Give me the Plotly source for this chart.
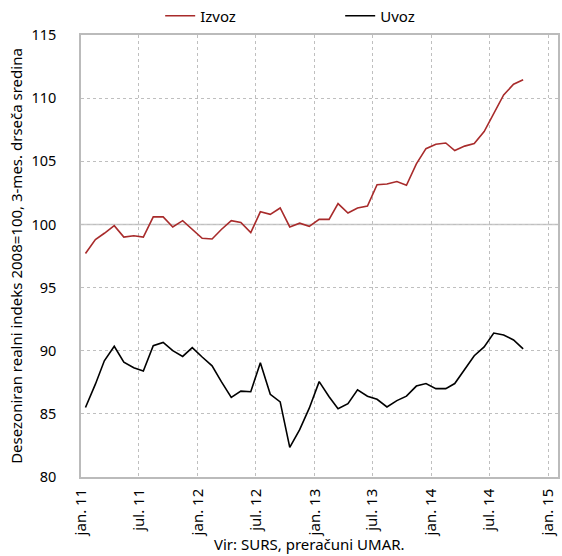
import pandas as pd
import plotly.graph_objects as go

# Monthly data, jan. 2011 - oct. 2014 (3-month moving average, 2008=100)
izvoz = [97.7, 98.8, 99.3, 99.9, 99.0, 99.1, 99.0, 100.6, 100.6, 99.8,
         100.3, 99.6, 98.9, 98.85, 99.6, 100.3, 100.15, 99.35, 101.0, 100.8,
         101.3, 99.8, 100.1, 99.85, 100.4, 100.4, 101.65, 100.9, 101.3, 101.45,
         103.15, 103.2, 103.4, 103.1, 104.8, 106.0, 106.35, 106.45, 105.85, 106.2,
         106.4, 107.35, 108.8, 110.25, 111.1, 111.45]
uvoz = [85.5, 87.35, 89.2, 90.35, 89.1, 88.65, 88.4, 90.4, 90.65, 90.0,
        89.55, 90.25, 89.5, 88.8, 87.55, 86.3, 86.8, 86.75, 89.05, 86.55,
        85.95, 82.35, 83.75, 85.45, 87.55, 86.35, 85.4, 85.8, 86.9, 86.4,
        86.15, 85.55, 86.05, 86.4, 87.2, 87.4, 87.0, 87.0, 87.4, 88.5,
        89.6, 90.3, 91.4, 91.25, 90.85, 90.15]
months = pd.date_range("2011-01-01", periods=len(izvoz), freq="MS") + pd.Timedelta(days=14)

tick_vals = pd.date_range("2011-01-01", "2015-01-01", freq="6MS")
tick_text = ["jan. 11", "jul. 11", "jan. 12", "jul. 12", "jan. 13",
             "jul. 13", "jan. 14", "jul. 14", "jan. 15"]

FONT = "Noto Sans"

fig = go.Figure()
fig.add_trace(go.Scatter(x=months, y=izvoz, name="Izvoz", mode="lines",
                         line=dict(color="#A82B2B", width=1.6)))
fig.add_trace(go.Scatter(x=months, y=uvoz, name="Uvoz", mode="lines",
                         line=dict(color="#000000", width=1.6)))

fig.add_shape(type="line", xref="paper", yref="y", x0=0, x1=1, y0=100, y1=100,
              line=dict(color="#C8C8C8", width=1.5), layer="below")

fig.update_layout(
    width=562, height=556,
    margin=dict(l=81, r=4, t=35, b=79, autoexpand=False),
    paper_bgcolor="white", plot_bgcolor="white",
    font=dict(family=FONT, size=15, color="#000000"),
    showlegend=True,
    legend=dict(orientation="h", x=0.166, xanchor="left", y=1.043, yanchor="middle",
                font=dict(size=15), entrywidth=135, entrywidthmode="pixels",
                itemwidth=30, tracegroupgap=0, bgcolor="rgba(0,0,0,0)"),
    xaxis=dict(
        range=["2011-01-01", "2015-02-01"],
        tickvals=tick_vals, ticktext=tick_text, tickangle=-90,
        showgrid=True, gridcolor="#BFBFBF", griddash="dot", gridwidth=1,
        showline=True, linecolor="#BBBBBB", linewidth=1.5, mirror=True,
        ticks="", ticklabelstandoff=4, tickfont=dict(size=15),
        automargin=False,
    ),
    yaxis=dict(
        range=[80, 115], dtick=5, tick0=80,
        showgrid=True, gridcolor="#BFBFBF", griddash="dot", gridwidth=1,
        showline=True, linecolor="#BBBBBB", linewidth=1.5, mirror=True,
        ticks="", ticklabelstandoff=20, tickfont=dict(size=14.5),
        zeroline=False,
        title=dict(text="Desezoniran realni indeks 2008=100, 3-mes. drseča sredina",
                   font=dict(size=15), standoff=5),
        automargin=False,
    ),
    annotations=[dict(text="Vir: SURS, preračuni UMAR.", xref="paper", yref="paper",
                      x=0.48, y=-0.1516, xanchor="center", yanchor="middle",
                      showarrow=False, font=dict(size=15))],
)

fig.write_html("out.html", config={"displayModeBar": False},
               post_script="document.body.style.margin='0px';")
